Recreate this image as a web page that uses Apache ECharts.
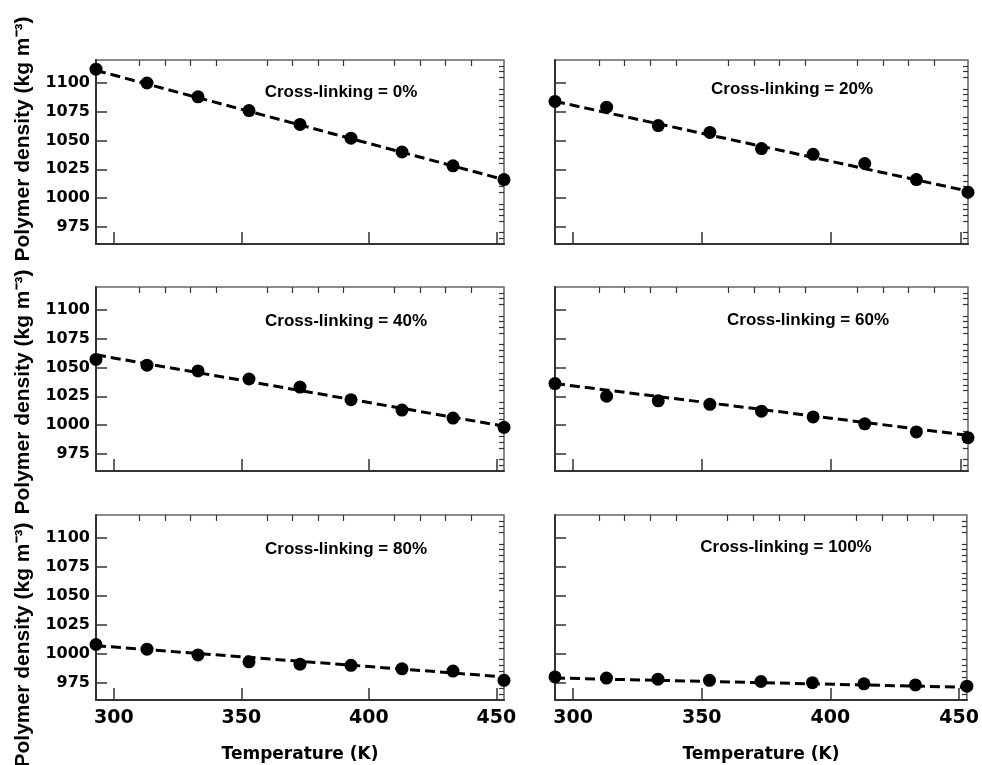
<!DOCTYPE html>
<html>
<head>
<meta charset="utf-8">
<script src="https://cdn.jsdelivr.net/npm/echarts@6/dist/echarts.min.js"></script>
<style>
  html, body { margin: 0; padding: 0; background: #fff; }
  #chart { width: 982px; height: 765px; }
</style>
</head>
<body>
<div id="chart"></div>
<script>
var temps = [293, 313, 333, 353, 373, 393, 413, 433, 453];
var fitTemps = [293, 453];

var panelTitles = ['Cross-linking = 0%', 'Cross-linking = 20%', 'Cross-linking = 40%',
    'Cross-linking = 60%', 'Cross-linking = 80%', 'Cross-linking = 100%'];

// simulated densities
var density0 = [1112, 1100, 1088, 1076, 1064, 1052, 1040, 1028, 1016];
var density20 = [1084, 1079, 1063, 1057, 1043, 1038, 1030, 1016, 1005];
var density40 = [1057, 1052, 1047, 1040, 1033, 1022, 1013, 1006, 998];
var density60 = [1036, 1025, 1021, 1018, 1012, 1007, 1001, 994, 989];
var density80 = [1008, 1004, 999, 993, 991, 990, 987, 985, 977];
var density100 = [980, 979, 978, 977, 976, 975, 974, 973, 972];

// dashed linear fits, values at 293 K and 453 K
var fit0 = [1111, 1016];
var fit20 = [1084, 1006];
var fit40 = [1061, 999];
var fit60 = [1036, 991];
var fit80 = [1007, 980];
var fit100 = [979, 971];

var xTickValues = [300, 350, 400, 450];
var xMinorValues = [310, 320, 330, 340, 360, 370, 380, 390, 410, 420, 430, 440];
var yTickValues = [975, 1000, 1025, 1050, 1075, 1100];
var yMinorValues = [965, 970, 980, 985, 990, 995, 1005, 1010, 1015, 1020, 1030, 1035,
    1040, 1045, 1055, 1060, 1065, 1070, 1080, 1085, 1090, 1095, 1105, 1110, 1115];

var densities = [density0, density20, density40, density60, density80, density100];
var fits = [fit0, fit20, fit40, fit60, fit80, fit100];

var chart = echarts.init(document.getElementById('chart'));

var grids = [
    { left: 96, top: 60, width: 408, height: 184 },
    { left: 555, top: 60, width: 413, height: 184 },
    { left: 96, top: 287, width: 408, height: 184 },
    { left: 555, top: 287, width: 413, height: 184 },
    { left: 96, top: 515, width: 408, height: 185 },
    { left: 555, top: 515, width: 413, height: 185 }
];
var titlePos = [[336, 89], [787, 86], [341, 318], [803, 317], [341, 546], [781, 544]];
var yNameCenters = [139, 392, 645];

var axisColor = '#333';
var tickFont = 'DejaVu Sans';

var xAxes = [], yAxes = [], series = [], titles = [], graphics = [];

grids.forEach(function (g, i) {
    g.show = true;
    g.borderColor = '#666';
    g.borderWidth = 1.5;
    g.containLabel = false;

    var bottomRow = i >= 4;
    var leftCol = i % 2 === 0;

    xAxes.push({
        gridIndex: i, type: 'value', min: 293, max: 453,
        axisLine: { show: true, lineStyle: { color: axisColor, width: 2 } },
        axisTick: { show: true, inside: true, length: 12, customValues: xTickValues,
            lineStyle: { color: axisColor, width: 1.5 } },
        axisLabel: { show: bottomRow, customValues: xTickValues, fontSize: 19, fontWeight: 'bold',
            fontFamily: tickFont, color: '#000', margin: 9,
            formatter: function (v) { return String(v); } },
        splitLine: { show: false },
        name: bottomRow ? 'Temperature (K)' : '',
        nameLocation: 'middle', nameGap: 46,
        nameTextStyle: { fontSize: 17, fontWeight: 'bold', fontFamily: tickFont, color: '#000' }
    });
    xAxes.push({
        gridIndex: i, type: 'value', min: 293, max: 453,
        axisLine: { show: false },
        axisTick: { show: true, inside: true, length: 6, customValues: xMinorValues,
            lineStyle: { color: axisColor, width: 1.2 } },
        axisLabel: { show: false },
        splitLine: { show: false }
    });

    yAxes.push({
        gridIndex: i, type: 'value', min: 960, max: 1120,
        axisLine: { show: true, lineStyle: { color: axisColor, width: 2 } },
        axisTick: { show: true, inside: true, length: 11, customValues: yTickValues,
            lineStyle: { color: axisColor, width: 1.5 } },
        axisLabel: { show: leftCol, customValues: yTickValues, fontSize: 16, fontWeight: 'bold',
            fontFamily: tickFont, color: '#000', margin: 6,
            formatter: function (v) { return String(v); } },
        splitLine: { show: false }
    });
    yAxes.push({
        gridIndex: i, type: 'value', min: 960, max: 1120,
        axisLine: { show: false },
        axisTick: { show: true, inside: true, length: 5, customValues: yMinorValues,
            lineStyle: { color: axisColor, width: 1.2 } },
        axisLabel: { show: false },
        splitLine: { show: false }
    });

    var fitData = fitTemps.map(function (t, k) { return [t, fits[i][k]]; });
    series.push({
        type: 'line', xAxisIndex: 2 * i, yAxisIndex: 2 * i,
        data: fitData, showSymbol: false, silent: true,
        lineStyle: { color: '#000', width: 3, type: [10, 5] },
        z: 2
    });

    var pts = temps.map(function (t, k) { return [t, densities[i][k]]; });
    series.push({
        type: 'scatter', xAxisIndex: 2 * i, yAxisIndex: 2 * i,
        data: pts, symbol: 'circle', symbolSize: 13,
        itemStyle: { color: '#000', opacity: 1 },
        z: 3
    });

    titles.push({
        text: panelTitles[i],
        left: titlePos[i][0], top: titlePos[i][1] - 10,
        textAlign: 'center',
        textStyle: { fontSize: 17, fontWeight: 'bold', fontFamily: 'Liberation Sans', color: '#000' }
    });
});

yNameCenters.forEach(function (cy) {
    graphics.push({
        type: 'text', x: 23, y: cy, rotation: Math.PI / 2,
        style: {
            text: 'Polymer density (kg m⁻³)',
            fill: '#000',
            font: 'bold 21px "Liberation Sans"',
            align: 'center', verticalAlign: 'middle',
            textAlign: 'center', textVerticalAlign: 'middle'
        }
    });
});

var option = {
    backgroundColor: '#fff',
    animation: false,
    title: titles,
    grid: grids,
    xAxis: xAxes,
    yAxis: yAxes,
    series: series,
    graphic: graphics
};

chart.setOption(option);
</script>
</body>
</html>
